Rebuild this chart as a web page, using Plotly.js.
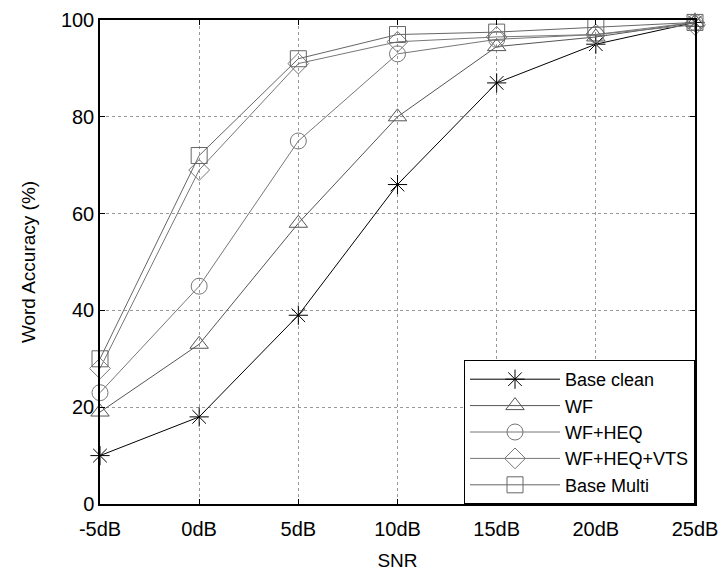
<!DOCTYPE html>
<html><head><meta charset="utf-8">
<script src="https://cdn.plot.ly/plotly-3.0.1.min.js"></script>
<style>body{margin:0;background:#fff}#chart{width:724px;height:571px}</style>
</head><body><div id="chart"></div>
<script>
const snr = [-5, 0, 5, 10, 15, 20, 25];
const snrLabels = ["-5dB", "0dB", "5dB", "10dB", "15dB", "20dB", "25dB"];
const baseClean = [10, 18, 39, 66, 87, 95, 99.5];
const wf = [19, 33, 58, 80, 94.5, 96.5, 99.5];
const wfHeq = [23, 45, 75, 93, 96, 97, 99.5];
const wfHeqVts = [28, 69, 91, 95.5, 96.5, 97, 99];
const baseMulti = [30, 72, 92, 97, 97.5, 98.5, 99.5];
const yTicks = [0, 20, 40, 60, 80, 100];

function tr(name, y, sym, lineColor, markColor, dash) {
  return {x: snr, y: y, name: name, type: 'scatter', mode: 'lines+markers', cliponaxis: false,
    line: {color: lineColor, width: 1, dash: dash || 'solid'},
    marker: {symbol: sym, size: 16, color: markColor, line: {color: markColor, width: 1}}};
}
const data = [
  tr('Base clean', baseClean, 'asterisk-open', '#000', '#000'),
  tr('WF', wf, 'triangle-up-open', '#555', '#555'),
  tr('WF+HEQ', wfHeq, 'circle-open', '#777', '#777'),
  tr('WF+HEQ+VTS', wfHeqVts, 'diamond-open', '#777', '#777'),
  tr('Base Multi', baseMulti, 'square-open', '#666', '#666')
];
const layout = {
  width: 724, height: 571,
  margin: {l: 100, r: 29, t: 20, b: 67},
  paper_bgcolor: '#fff', plot_bgcolor: '#fff',
  font: {family: 'Liberation Sans, Arial, sans-serif', size: 20, color: '#000'},
  showlegend: true,
  legend: {x: 1, y: 0, xanchor: 'right', yanchor: 'bottom', bordercolor: '#000', borderwidth: 1,
    bgcolor: '#fff', font: {size: 18}, tracegroupgap: 0, itemwidth: 90},
  xaxis: {range: [-5, 25], tickvals: snr, ticktext: snrLabels, showgrid: true, gridcolor: '#999',
    griddash: 'dot', gridwidth: 1, zeroline: false, showline: true, linecolor: '#000', linewidth: 1.5,
    mirror: 'ticks', ticks: 'inside', ticklen: 5, tickcolor: '#000', ticklabelstandoff: 6,
    title: {text: 'SNR', font: {size: 19}, standoff: 16}},
  yaxis: {range: [0, 100], tickvals: yTicks, showgrid: true, gridcolor: '#999',
    griddash: 'dot', gridwidth: 1, zeroline: false, showline: true, linecolor: '#000', linewidth: 1.5,
    mirror: 'ticks', ticks: 'inside', ticklen: 5, tickcolor: '#000',
    title: {text: 'Word Accuracy (%)', font: {size: 19}, standoff: 20}}
};
Plotly.newPlot('chart', data, layout, {displayModeBar: false});
</script></body></html>
